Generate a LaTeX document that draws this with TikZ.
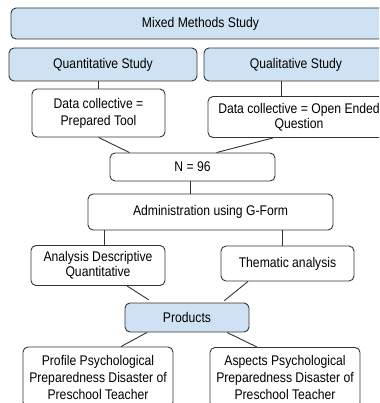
\documentclass[tikz,border=0pt]{standalone}
\usepackage{fontspec}
\setmainfont{Liberation Sans}[FakeStretch=0.87]
\definecolor{lightblue}{HTML}{CFE2F3}
\tikzset{
    box/.style={draw=black!80, line width=0.9pt, rounded corners=5pt, align=center,
        inner sep=2pt, font=\fontsize{14}{15}\selectfont},
    bluebox/.style={box, fill=lightblue},
    link/.style={draw=black!80, line width=0.9pt}
}
\begin{document}
\begin{tikzpicture}[x=1pt, y=-1pt]
    \useasboundingbox (0, 0) rectangle (379, 403);
    \clip (0, 0) rectangle (379, 403);
    \node[bluebox, minimum width=379pt, minimum height=31pt] (mixed) at(200.5, 23.5) {Mixed Methods Study};
    \node[bluebox, minimum width=188pt, minimum height=33pt] (quant) at(103, 64.5) {Quantitative Study};
    \node[bluebox, minimum width=184pt, minimum height=33pt] (qual) at(296, 64.5) {Qualitative Study};
    \node[box, minimum width=133pt, minimum height=48pt, font=\fontsize{14}{17}\selectfont] (dc1) at(98.5, 113) {Data collective =\\Prepared Tool};
    \node[box, minimum width=182pt, minimum height=41pt] (dc2) at(299, 117) {Data collective = Open Ended\\Question};
    \node[box, minimum width=165pt, minimum height=28pt] (n) at(192.5, 167) {N = 96};
    \node[box, minimum width=245pt, minimum height=36pt] (admin) at(210.5, 212) {Administration using G-Form};
    \node[box, minimum width=134pt, minimum height=40pt] (adq) at(98, 265.5) {Analysis Descriptive\\Quantitative};
    \node[box, minimum width=133pt, minimum height=35pt] (them) at(287.5, 263.5) {Thematic analysis};
    \node[bluebox, minimum width=124pt, minimum height=29pt] (prod) at(187, 317.5) {Products};
    \node[box, minimum width=150pt, minimum height=60pt, font=\fontsize{14}{17}\selectfont] (prof) at(98, 377) {Profile Psychological\\Preparedness Disaster of\\Preschool Teacher};
    \node[box, minimum width=150pt, minimum height=60pt, font=\fontsize{14}{17}\selectfont] (asp) at(285, 377.5) {Aspects Psychological\\Preparedness Disaster of\\Preschool Teacher};
    \draw[link] (dc1.north) -- (dc1.north |- quant.south);
    \draw[link] ([xshift=-15pt]qual.south) -- ([xshift=-15pt]qual.south |- dc2.north);
    \draw[link] (dc1.south) -- ([xshift=-63pt]n.north);
    \draw[link] ([xshift=-26pt]dc2.south) -- ([xshift=24pt]n.north);
    \draw[link] ([xshift=-2pt]n.south) -- ([xshift=-2pt]n.south |- admin.north);
    \draw[link] ([xshift=6pt]adq.north) -- ([xshift=6pt]adq.north |- admin.south);
    \draw[link] ([xshift=-5.5pt]them.north) -- ([xshift=-5.5pt]them.north |- admin.south);
    \draw[link, shorten >=5pt] ([xshift=29pt]adq.south) -- ([xshift=-34pt]prod.north);
    \draw[link, shorten >=3pt] ([xshift=-39.5pt]them.south) -- ([xshift=35pt]prod.north);
    \draw[link] ([xshift=-40pt]prod.south) -- ([xshift=23pt]prof.north);
    \draw[link] ([xshift=40pt]prod.south) -- ([xshift=-28pt]asp.north);
\end{tikzpicture}
\end{document}
